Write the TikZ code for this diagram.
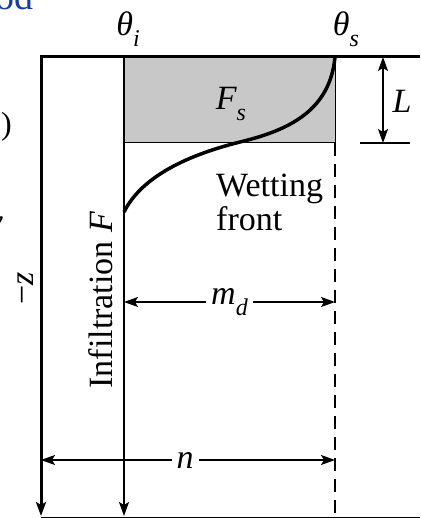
\documentclass[tikz,border=0pt]{standalone}
\usepackage{fontspec}
\setmainfont{Liberation Serif}
\usetikzlibrary{arrows.meta}
\newcommand\mysub[1]{\raisebox{-0.32em}{\fontsize{24}{24}\selectfont\itshape #1}}
\begin{document}
\begin{tikzpicture}[x=1pt,y=-1pt,
  lbl/.style={font=\fontsize{34}{34}\selectfont, inner sep=0pt},
  tip/.style={-{Stealth[length=14pt,width=10pt,inset=3pt]}},
  tips/.style={{Stealth[length=14pt,width=10pt,inset=3pt]}-{Stealth[length=14pt,width=10pt,inset=3pt]}},
  thick line/.style={line width=3pt},
  thin line/.style={line width=1.3pt},
  gap/.style={fill=white, inner xsep=5pt, inner ysep=2pt}
]
\useasboundingbox (0,0) rectangle (420,518);
% fragments of neighbouring page (cut off in the reference too)
\node[font=\fontsize{38}{38}\selectfont, text={rgb,255:red,25;green,60;blue,160}, anchor=base east, inner sep=0pt] (frag1) at (34,10) {od};
\node[font=\fontsize{32}{32}\selectfont, anchor=base east, inner sep=0pt] (frag2) at (12,135) {s)};
\node[font=\fontsize{32}{32}\selectfont\itshape, anchor=base east, inner sep=0pt] (frag3) at (3,231) {v};

% coordinates
\coordinate (TL) at (41,57);
\coordinate (TR) at (420,57);
\coordinate (BL) at (41,516);
\coordinate (BR) at (420,517);
\coordinate (Bot) at (41,517);
\coordinate (TI) at (124,57);
\coordinate (BI) at (124,516);
\coordinate (TS) at (335,57);
\coordinate (MS) at (335,143);
\coordinate (BS) at (335,518);
\coordinate (CE) at (124,212);

% gray zone
\filldraw[fill={rgb,255:red,200;green,200;blue,200}, draw=black, line width=1pt] (TI) rectangle (MS);
% dashed
\draw[thin line, dash pattern=on 13pt off 8pt] (MS) -- (BS);
% bottom line
\draw[line width=1pt] (Bot) -- (BR);
% frame
\draw[thick line, tip] (TR) -- (TL) -- (BL);
% theta_i line
\draw[thin line, tip] (TI) -- (BI);
% curve
\draw[line width=3.5pt] (TS) .. controls (330,110) and (290,130) .. (240,142)
  .. controls (180,157) and (140,180) .. (CE);

% L
\coordinate (LT) at (383,57);
\coordinate (LB) at (383,143);
\draw[thin line, tips] (LT) -- (LB);
\coordinate (LL) at (360,143);
\coordinate (LR) at (410,143);
\draw[thin line] (LL) -- (LR);

% labels
\node[lbl] (thi) at (128,29) {\itshape θ\mysub{i}};
\node[lbl] (ths) at (346,29) {\itshape θ\mysub{s}};
\node[lbl] (Fs) at (231,104) {\itshape F\mysub{s}};
\node[lbl] (L) at (402,101) {\itshape L};
\node[lbl, align=left, anchor=north west] (wf) at (216,174) {Wetting\\front};
\node[lbl, rotate=90] (inf) at (101,300) {Infiltration \textit{F}};
\node[lbl, rotate=90] (z) at (26,288) {−\textit{z}};

% m_d
\coordinate (mL) at (124,302);
\coordinate (mR) at (335,302);
\draw[thin line, tips] (mL) -- node[lbl, gap] (md) {\itshape m\mysub{d}} (mR);
% n
\coordinate (nL) at (41,460);
\coordinate (nR) at (335,460);
\draw[thin line, tips] (nL) -- node[lbl, gap, pos=0.49] (n) {\itshape n} (nR);
\end{tikzpicture}
\end{document}
